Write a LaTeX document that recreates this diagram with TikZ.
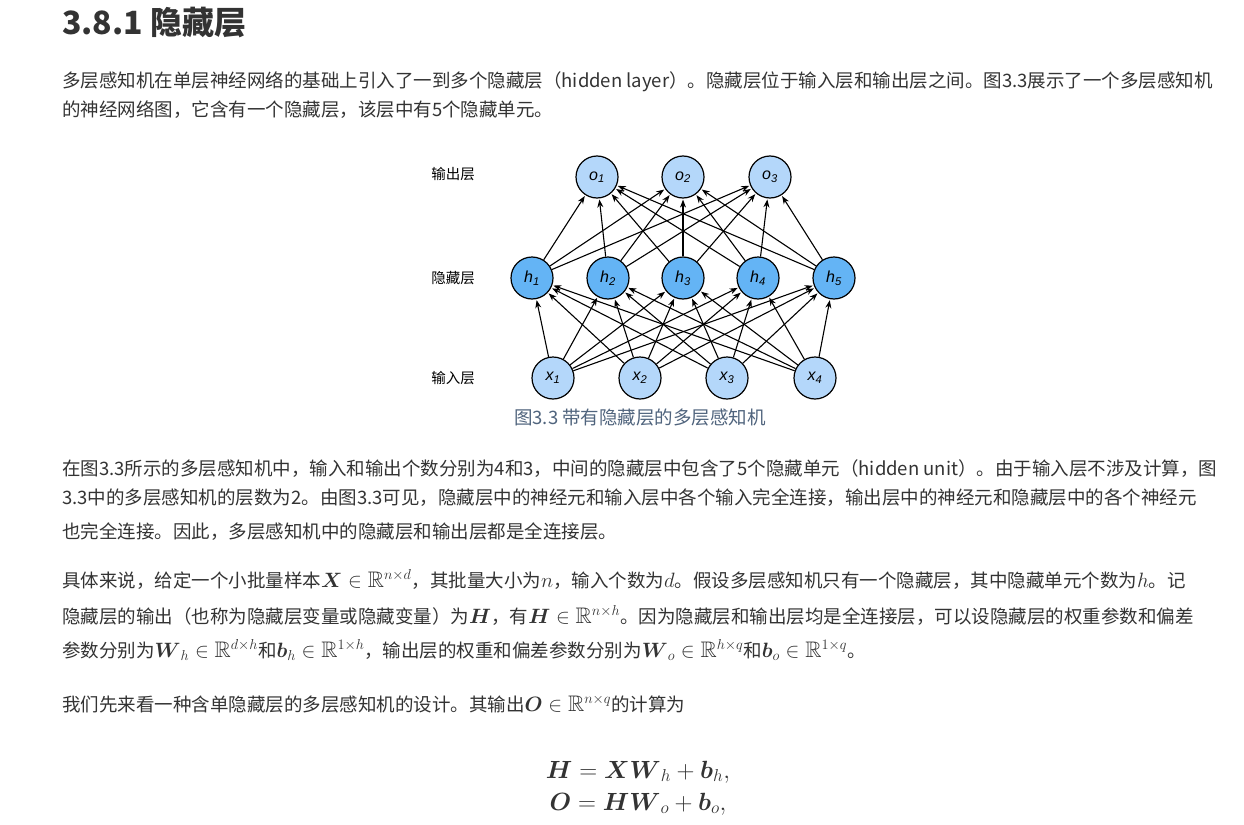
\documentclass[tikz,border=0pt]{standalone}
\usepackage{amsmath,amssymb}
\usepackage{fontspec}
\setmainfont{Noto Sans CJK SC}
\newfontfamily\lab{Liberation Sans}
\usetikzlibrary{arrows.meta}
\definecolor{txt}{RGB}{51,51,51}
\definecolor{light}{RGB}{180,215,250}
\definecolor{dark}{RGB}{100,180,245}
\definecolor{cap}{RGB}{80,100,125}
\tikzset{
 para/.style={anchor=base west,inner sep=0pt,text=txt,font=\fontsize{18.5}{22}\selectfont},
 neur/.style={circle,draw=black,line width=1.2pt,minimum size=42pt,inner sep=0pt,font=\lab\fontsize{16}{16}\selectfont\itshape},
 lnode/.style={neur,fill=light},
 hnode/.style={neur,fill=dark},
 conn/.style={-{Stealth[length=8pt,width=6pt]},line width=1.1pt,shorten >=1pt},
 lay/.style={anchor=center,text=black,font=\fontsize{14.5}{16}\selectfont},
 eq/.style={anchor=base,inner sep=0pt,text=txt,font=\fontsize{25.5}{28}\selectfont}
}
\newcommand{\sub}[2]{#1\textsubscript{#2}}
\newcommand{\mm}[1]{{\fontsize{22.5}{22}\selectfont$#1$}}
\begin{document}
\begin{tikzpicture}[x=1pt,y=-1pt]
\useasboundingbox (0,0) rectangle (1244,824);
\node[anchor=base west,inner sep=0pt,text=txt,font=\fontsize{32}{36}\selectfont\bfseries] (title) at (62,35) {3.8.1 隐藏层};
\node[para] (p1a) at (62,88) {多层感知机在单层神经网络的基础上引入了一到多个隐藏层（hidden layer）。隐藏层位于输入层和输出层之间。图3.3展示了一个多层感知机};
\node[para] (p1b) at (62,117) {的神经网络图，它含有一个隐藏层，该层中有5个隐藏单元。};
% diagram
\node[lay] (lo) at (453,174) {输出层};
\node[lay] (lh) at (453,278) {隐藏层};
\node[lay] (lx) at (453,378) {输入层};
\node[lnode] (o1) at (597,177) {\sub{o}{1}};
\node[lnode] (o2) at (683,177) {\sub{o}{2}};
\node[lnode] (o3) at (770,177) {\sub{o}{3}};
\node[hnode] (h1) at (532,278) {\sub{h}{1}};
\node[hnode] (h2) at (608,278) {\sub{h}{2}};
\node[hnode] (h3) at (683,278) {\sub{h}{3}};
\node[hnode] (h4) at (758,278) {\sub{h}{4}};
\node[hnode] (h5) at (834,278) {\sub{h}{5}};
\node[lnode] (x1) at (553,378) {\sub{x}{1}};
\node[lnode] (x2) at (640,378) {\sub{x}{2}};
\node[lnode] (x3) at (727,378) {\sub{x}{3}};
\node[lnode] (x4) at (815,378) {\sub{x}{4}};
\foreach \i in {1,...,4}{\foreach \j in {1,...,5}{\draw[conn] (x\i) -- (h\j);}}
\foreach \i in {1,...,5}{\foreach \j in {1,...,3}{\draw[conn] (h\i) -- (o\j);}}
\node[anchor=center,text=cap,font=\fontsize{18.5}{22}\selectfont] (caption) at (640,418) {图3.3 带有隐藏层的多层感知机};
% paragraphs
\node[para] (p2a) at (62,475) {在图3.3所示的多层感知机中，输入和输出个数分别为4和3，中间的隐藏层中包含了5个隐藏单元（hidden unit）。由于输入层不涉及计算，图};
\node[para] (p2b) at (62,504) {3.3中的多层感知机的层数为2。由图3.3可见，隐藏层中的神经元和输入层中各个输入完全连接，输出层中的神经元和隐藏层中的各个神经元};
\node[para] (p2c) at (62,538) {也完全连接。因此，多层感知机中的隐藏层和输出层都是全连接层。};
\node[para] (p3a) at (62,587) {具体来说，给定一个小批量样本\mm{\boldsymbol{X}\in\mathbb{R}^{n\times d}}，其批量大小为\mm{n}，输入个数为\mm{d}。假设多层感知机只有一个隐藏层，其中隐藏单元个数为\mm{h}。记};
\node[para] (p3b) at (62,623) {隐藏层的输出（也称为隐藏层变量或隐藏变量）为\mm{\boldsymbol{H}}，有\mm{\boldsymbol{H}\in\mathbb{R}^{n\times h}}。因为隐藏层和输出层均是全连接层，可以设隐藏层的权重参数和偏差};
\node[para] (p3c) at (62,657) {参数分别为\mm{\boldsymbol{W}_h\in\mathbb{R}^{d\times h}}和\mm{\boldsymbol{b}_h\in\mathbb{R}^{1\times h}}，输出层的权重和偏差参数分别为\mm{\boldsymbol{W}_o\in\mathbb{R}^{h\times q}}和\mm{\boldsymbol{b}_o\in\mathbb{R}^{1\times q}}。};
\node[para] (p4) at (62,711) {我们先来看一种含单隐藏层的多层感知机的设计。其输出\mm{\boldsymbol{O}\in\mathbb{R}^{n\times q}}的计算为};
\node[eq] (e1) at (638,778) {$\boldsymbol{H} = \boldsymbol{X}\boldsymbol{W}_h + \boldsymbol{b}_h,$};
\node[eq] (e2) at (638,810) {$\boldsymbol{O} = \boldsymbol{H}\boldsymbol{W}_o + \boldsymbol{b}_o,$};
\end{tikzpicture}
\end{document}
